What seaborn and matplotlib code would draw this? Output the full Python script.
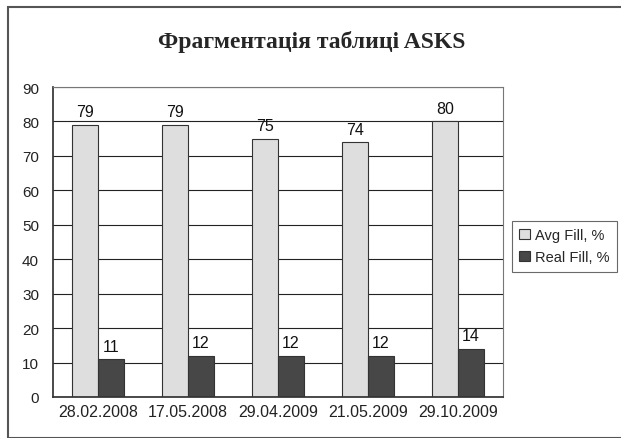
import matplotlib
matplotlib.use("Agg")
import matplotlib.pyplot as plt
import seaborn as sns
import pandas as pd
from matplotlib.patches import Rectangle

dates = ["28.02.2008", "17.05.2008", "29.04.2009", "21.05.2009", "29.10.2009"]
avg_fill = [79, 79, 75, 74, 80]
real_fill = [11, 12, 12, 12, 14]
series = ["Avg Fill, %", "Real Fill, %"]

df = pd.DataFrame({
    "date": dates * 2,
    "value": avg_fill + real_fill,
    "series": [series[0]] * len(dates) + [series[1]] * len(dates),
})

sns.set_theme(style="white")
plt.rcParams["font.family"] = ["Liberation Sans", "DejaVu Sans"]

fig = plt.figure(figsize=(6.21, 4.39), dpi=100)
fig.patches.append(Rectangle((8/621, 0.0), 1.2, 1 - 8/439, transform=fig.transFigure,
                             fill=False, edgecolor="#555555", linewidth=1.5))
ax = fig.add_axes([53/621, 1 - 398/439, (503 - 53)/621, (398 - 88)/439])

palette = {series[0]: "#dedede", series[1]: "#474747"}
sns.barplot(data=df, x="date", y="value", hue="series", palette=palette,
            width=0.57, edgecolor="#333333", linewidth=0.8, ax=ax, saturation=1)

for cont in ax.containers:
    ax.bar_label(cont, fmt="%d", padding=4, fontsize=11.5, color="#111111")

ax.set_ylim(0, 90)
ax.set_yticks(range(0, 91, 10))
ax.set_xlim(-0.5, 4.5)
ax.yaxis.grid(True, color="#222222", linewidth=0.8)
ax.set_axisbelow(True)
ax.set_xlabel("")
ax.set_ylabel("")
for s in ["top", "right"]:
    ax.spines[s].set_color("#777777")
    ax.spines[s].set_linewidth(0.8)
ax.spines["left"].set_color("#333333")
ax.spines["bottom"].set_color("#333333")
ax.tick_params(axis="both", labelsize=11, colors="#222222")
ax.tick_params(axis="x", length=0, pad=5, labelsize=11.5)
ax.set_xticks([i + 0.5 for i in range(-1, 5)], minor=True)
ax.tick_params(axis="x", which="minor", length=5, color="#333333", direction="out")
ax.tick_params(axis="y", length=5, color="#333333", direction="out", pad=5)

leg = ax.legend(loc="upper left", bbox_to_anchor=(512/621, 1 - 222/439),
                bbox_transform=fig.transFigure, frameon=True, fontsize=10.5,
                handlelength=0.7, handleheight=0.7, handletextpad=0.4,
                borderpad=0.5, labelspacing=0.55, borderaxespad=0, fancybox=False)
leg.get_frame().set_edgecolor("#444444")
leg.get_frame().set_linewidth(0.8)

fig.text(312/621, 1 - 42/439, "Фрагментація таблиці ASKS", ha="center", va="center",
         fontsize=17, fontweight="bold", family=["Liberation Serif", "DejaVu Serif"])

fig.savefig("out.png", dpi=100)
